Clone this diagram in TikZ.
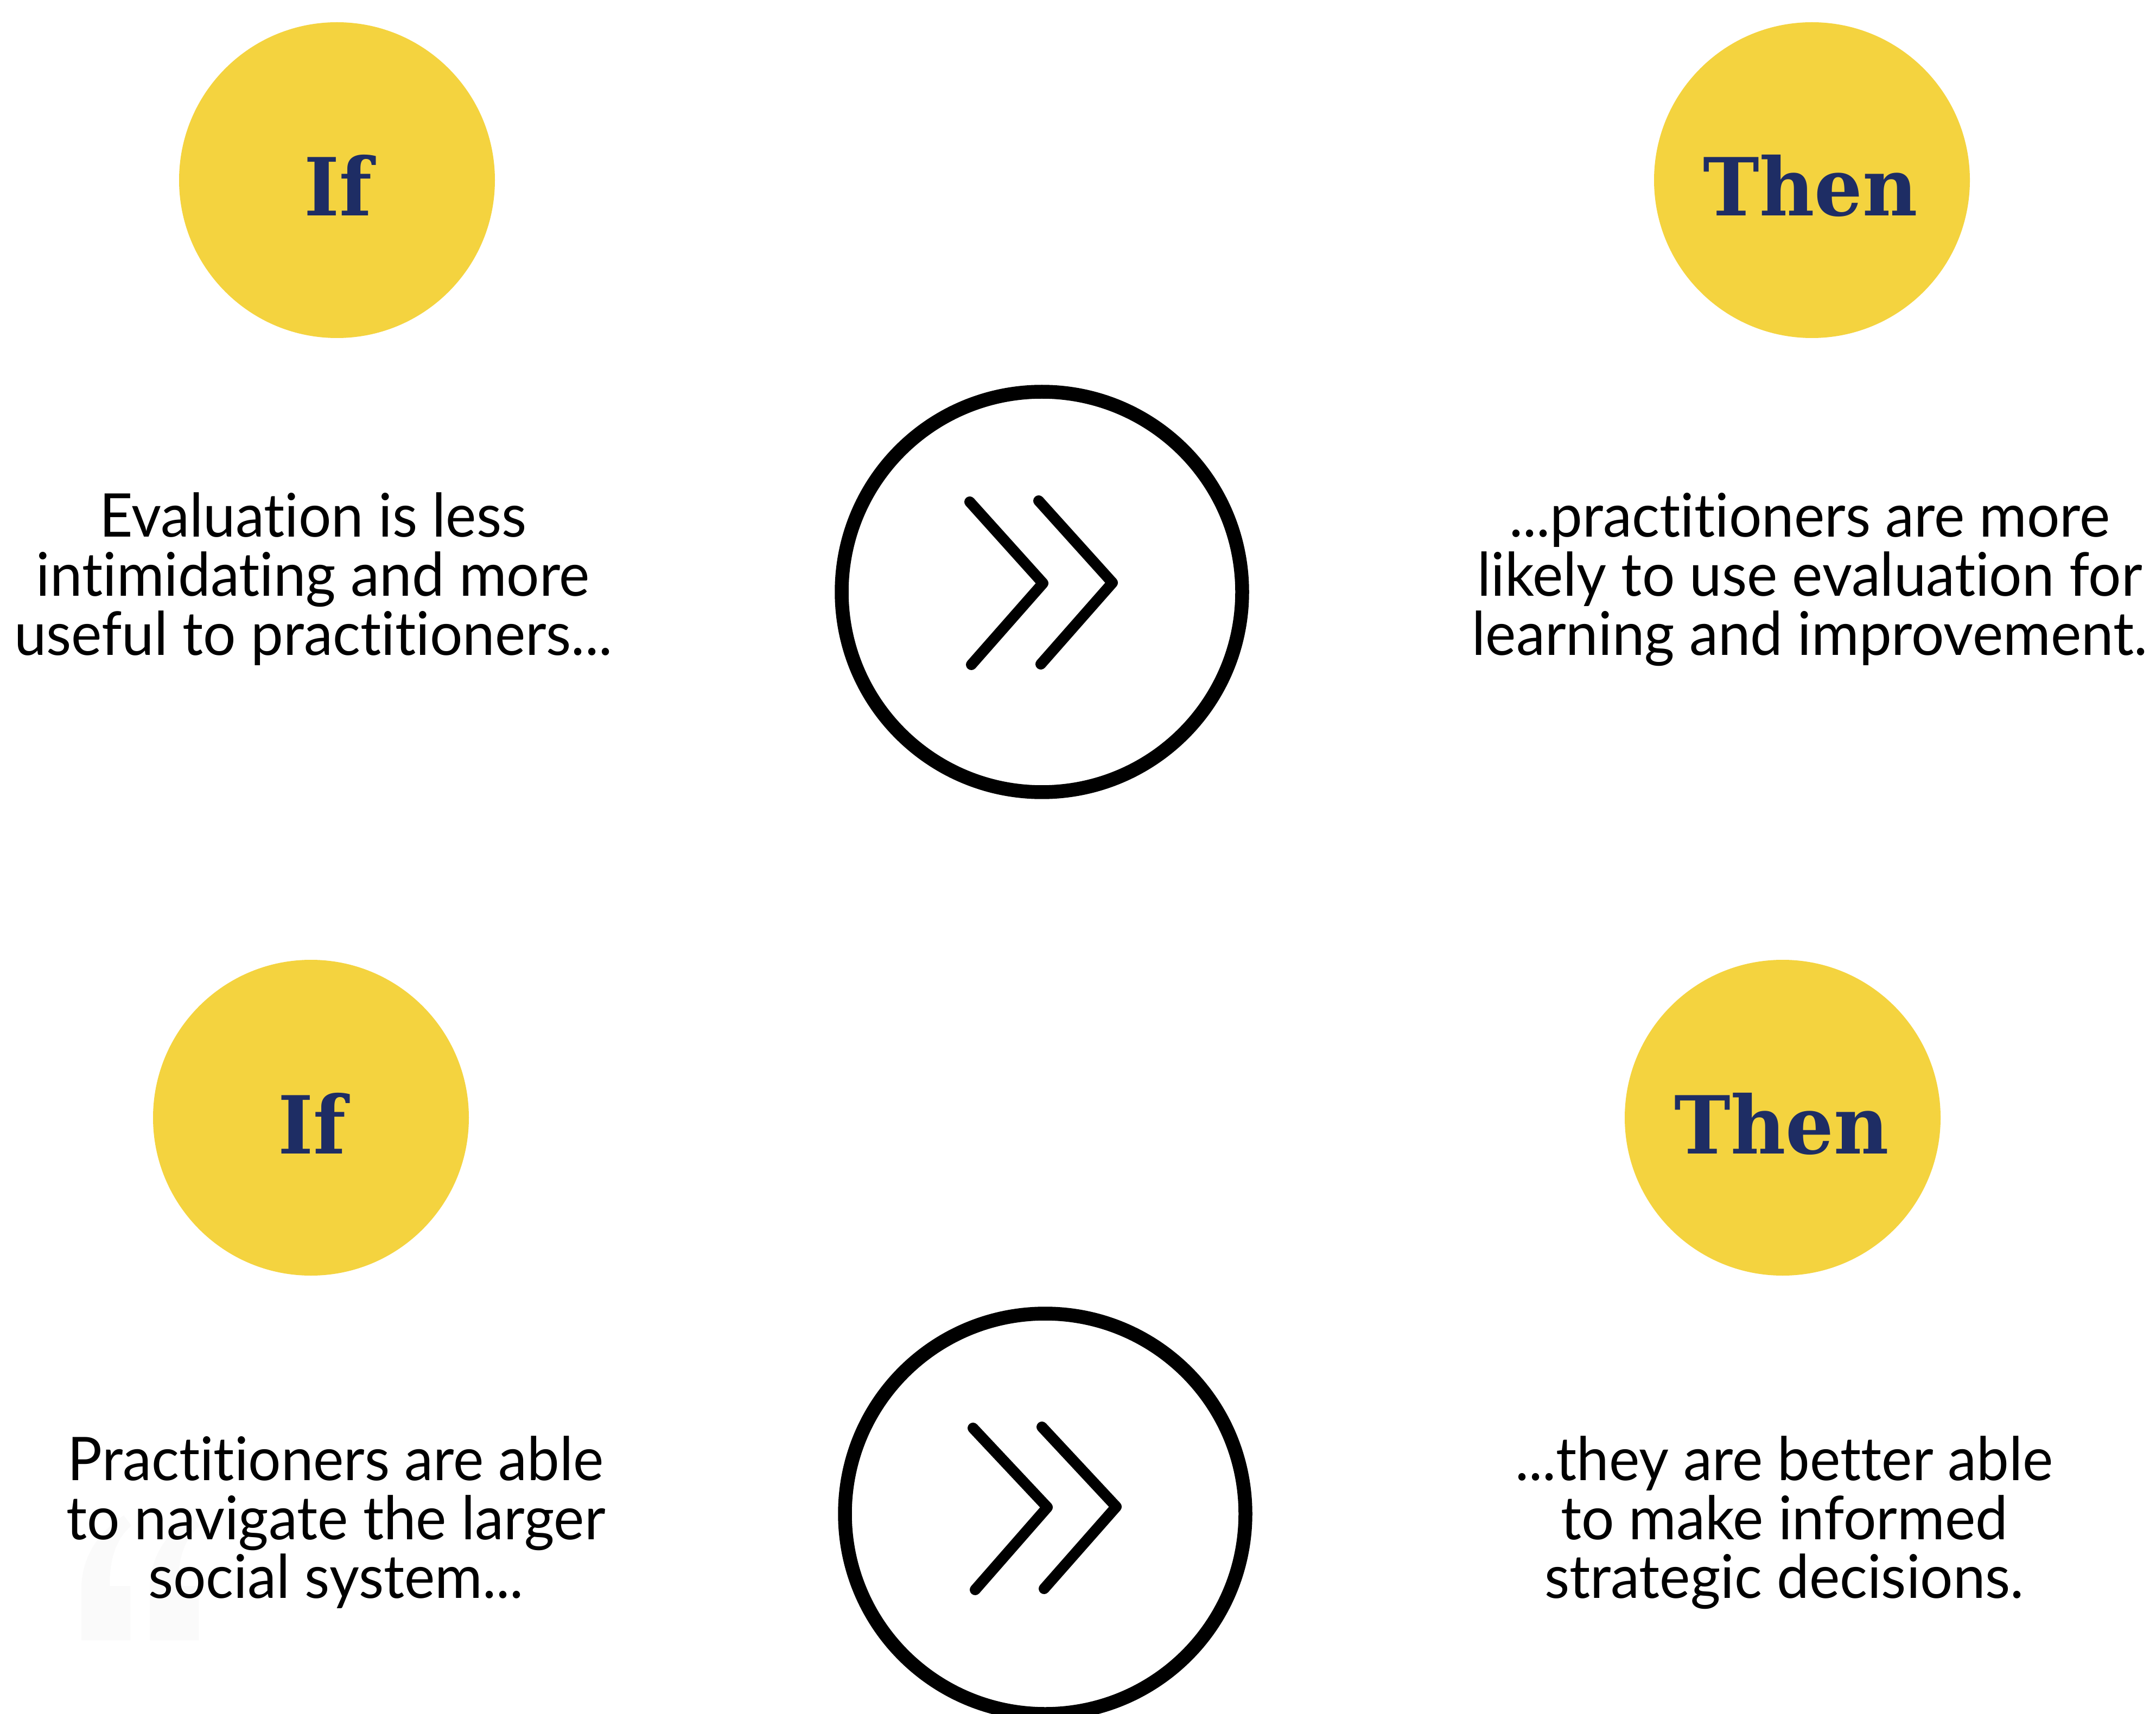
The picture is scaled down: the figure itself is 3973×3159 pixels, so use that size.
\documentclass[tikz,border=0pt]{standalone}
\usepackage{fontspec}
\setmainfont{Lato}[Ligatures=NoCommon, FakeStretch=0.96]
\newfontfamily\headfont{DejaVu Serif}[FakeStretch=0.945]
\definecolor{ifyellow}{RGB}{244,211,63}
\definecolor{ifnavy}{RGB}{30,45,100}
\definecolor{ghost}{RGB}{250,250,250}
\begin{document}
\begin{tikzpicture}[x=0.1mm,y=-0.1mm,
  bubble/.style={circle, fill=ifyellow, minimum size=58.2mm, inner sep=0pt},
  ring/.style={circle, draw=black, line width=2.55mm, minimum size=73.8mm, inner sep=0pt},
  chev/.style={line width=2mm, line cap=round, line join=round},
  head/.style={font=\headfont\bfseries\fontsize{42}{42}\selectfont, text=ifnavy, anchor=base, inner sep=0pt},
  body/.style={font=\fontsize{31.6}{31.6}\selectfont, text=black, anchor=base, inner sep=0pt}]
\fill[white] (0,0) rectangle (3973,3159);
\useasboundingbox (0,0) rectangle (3973,3159);

% faint quote mark (barely visible)
\fill[ghost] (150,3023) -- (240,3023) -- (240,2923) -- (202,2923) .. controls (202,2870) and (215,2835) .. (242,2812) -- (228,2793) .. controls (175,2830) and (150,2875) .. (150,2930) -- cycle;
\fill[ghost] (276,3023) -- (366,3023) -- (366,2923) -- (328,2923) .. controls (328,2870) and (341,2835) .. (368,2812) -- (354,2793) .. controls (301,2830) and (276,2875) .. (276,2930) -- cycle;

% yellow bubbles
\node[bubble] (if1) at (621,332) {};
\node[bubble] (then1) at (3339,332) {};
\node[bubble] (if2) at (573,2060) {};
\node[bubble] (then2) at (3285,2060) {};
\node[head] (if1t) at (623,398) {If};
\node[head] (then1t) at (3336,398) {Then};
\node[head] (if2t) at (575,2126) {If};
\node[head] (then2t) at (3283,2126) {Then};

% rings with chevrons
\node[ring] (ring1) at (1920,1091) {};
\node[ring] (ring2) at (1926,2790) {};
\coordinate (a1) at (1787,925);  \coordinate (a2) at (1922,1075); \coordinate (a3) at (1790,1225);
\coordinate (b1) at (1914,923);  \coordinate (b2) at (2050,1074); \coordinate (b3) at (1918,1224);
\coordinate (c1) at (1793,2632); \coordinate (c2) at (1930,2778); \coordinate (c3) at (1797,2930);
\coordinate (d1) at (1920,2630); \coordinate (d2) at (2057,2777); \coordinate (d3) at (1924,2928);
\draw[chev] (a1) -- (a2) -- (a3);
\draw[chev] (b1) -- (b2) -- (b3);
\draw[chev] (c1) -- (c2) -- (c3);
\draw[chev] (d1) -- (d2) -- (d3);

% texts
\node[body] (tl1) at (577,990) {Evaluation is less};
\node[body] (tl2) at (577,1099) {intimidating and more};
\node[body] (tl3) at (577,1208) {useful to practitioners...};
\node[body] (tr1) at (3335,990) {...practitioners are more};
\node[body] (tr2) at (3335,1099) {likely to use evaluation for};
\node[body] (tr3) at (3335,1208) {learning and improvement.};
\node[body] (bl1) at (619,2728) {Practitioners are able};
\node[body] (bl2) at (619,2837) {to navigate the larger};
\node[body] (bl3) at (619,2945) {social system...};
\node[body] (br1) at (3288,2728) {...they are better able};
\node[body] (br2) at (3288,2837) {to make informed};
\node[body] (br3) at (3288,2945) {strategic decisions.};
\end{tikzpicture}
\end{document}
